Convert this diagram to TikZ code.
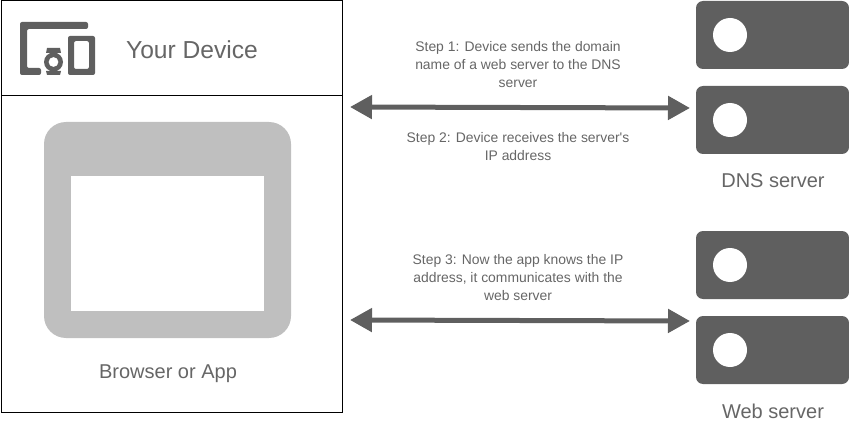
\documentclass[tikz,border=0pt]{standalone}
\usepackage{fontspec}
\setmainfont{Liberation Sans}
\usetikzlibrary{arrows.meta,positioning,calc}
\definecolor{shapegray}{HTML}{5F5F5F}
\definecolor{labelgray}{HTML}{666666}
\definecolor{panelgray}{HTML}{BFBFBF}

\begin{document}
\begin{tikzpicture}[x=1pt, y=-1pt, inner sep=0pt, outer sep=0pt,
        frame/.style={rectangle, draw=black, line width=1pt, anchor=north west},
        server/.style={rectangle, fill=shapegray, rounded corners=7pt, minimum width=153pt, minimum height=68pt, anchor=north west},
        lamp/.style={circle, fill=white, minimum size=34pt},
        title/.style={text=labelgray, font=\fontsize{20}{24}\selectfont},
        bigtitle/.style={text=labelgray, font=\fontsize{24.6}{28}\selectfont},
        note/.style={text=labelgray, font=\fontsize{13.9}{18}\selectfont, align=center},
        link/.style={{Triangle[length=22pt,width=23pt]}-{Triangle[length=22pt,width=23pt]}, draw=shapegray, line width=5pt}]
        \useasboundingbox (0,0) rectangle (849,425);

        % device frame
        \node[frame, minimum width=341pt, minimum height=411pt] (device) at (1,1) {};
        \node[frame, minimum width=341pt, minimum height=95pt] (header) at (1,1) {};
        \node[bigtitle] (devicename) at (192,50) {Your Device};

        % icon
        \fill[shapegray, rounded corners=2pt] (20,22) -- (88,22) -- (88,29) -- (27,29) -- (27,68) -- (41,68) -- (41,75) -- (20,75) -- cycle;
        \fill[shapegray, rounded corners=2pt, even odd rule] (68,36) rectangle (95,75) (74,41) rectangle (89,69);
        \fill[shapegray] (47,48) -- (60,48) -- (61,53) -- (46,53) -- cycle (46,71) -- (61,71) -- (60,75) -- (47,75) -- cycle;
        \fill[shapegray, even odd rule] (53.5,62) circle (9.5) (53.5,62) circle (5);

        % browser
        \node[rectangle, fill=panelgray, rounded corners=22pt, minimum width=247pt, minimum height=216pt, anchor=north west] (browser) at (44,122) {};
        \node[rectangle, fill=white, minimum width=193pt, minimum height=135pt, anchor=north west] (page) at (71,176) {};
        \node[title] (browsername) at (168,374) {Browser or App};

        % servers
        \node[server] (dnsa) at (696,1) {};
        \node[server, below=17pt of dnsa] (dnsb) {};
        \node[server] (weba) at (696,231) {};
        \node[server, below=17pt of weba] (webb) {};
        \foreach \srv/\ypos in {dnsa/35, dnsb/120, weba/265, webb/350}
            \node[lamp] (lamp\srv) at (730,\ypos) {};
        \node[title] (dnsname) at (773,181) {DNS server};
        \node[title] (webname) at (773,411) {Web server};

        % notes
        \node[note] (stepa) at (518,65) {Step 1: Device sends the domain\\name of a web server to the DNS\\server};
        \node[note] (stepb) at (518,147) {Step 2: Device receives the server\textquotesingle s\\IP address};
        \node[note] (stepc) at (518,278) {Step 3: Now the app knows the IP\\address, it communicates with the\\web server};

        % links
        \coordinate (dnsleft) at (350,107);
        \coordinate (dnsright) at (690,108);
        \coordinate (webleft) at (350,320);
        \coordinate (webright) at (690,321);
        \draw[link] (dnsleft) -- (dnsright);
        \draw[link] (webleft) -- (webright);
    \end{tikzpicture}
\end{document}
